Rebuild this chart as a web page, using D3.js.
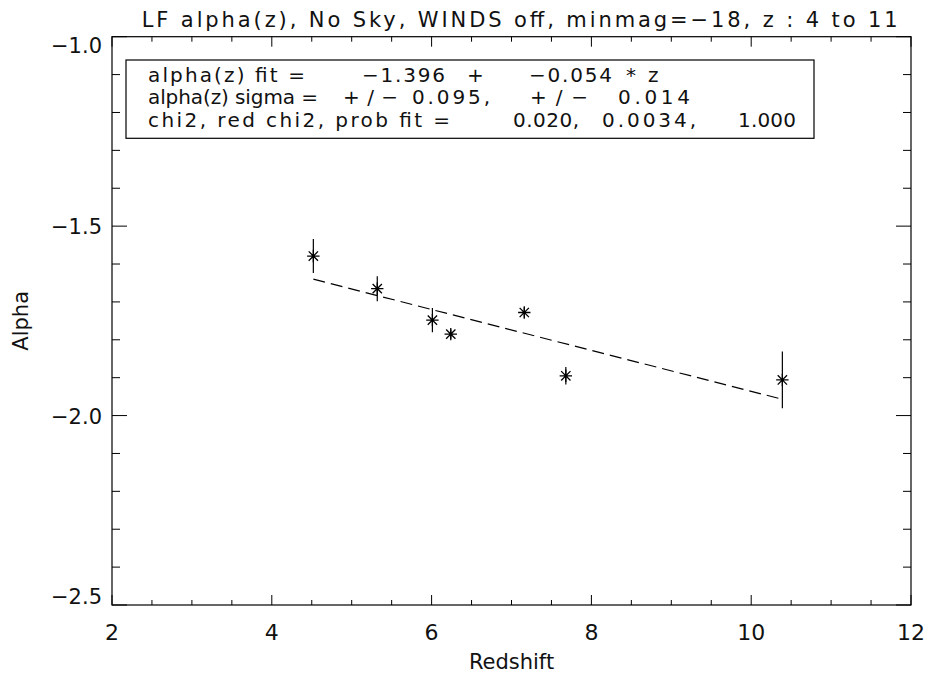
<!DOCTYPE html>
<html><head><meta charset="utf-8">
<script src="https://cdn.jsdelivr.net/npm/d3@7"></script>
<style>
html,body{margin:0;padding:0;background:#fff;}
svg text{font-family:"DejaVu Sans","Liberation Sans",sans-serif;fill:#111;}
</style></head>
<body>
<svg id="chart" width="928" height="677"></svg>
<script>
// ---- data ----
const redshift = [4.52, 5.32, 6.01, 6.24, 7.16, 7.68, 10.39];
const alpha    = [-1.579, -1.665, -1.748, -1.785, -1.728, -1.895, -1.906];
const alphaErr = [0.045, 0.033, 0.032, 0.012, 0.014, 0.023, 0.075];
const fitIntercept = -1.396;
const fitSlope = -0.054;
const xTicks = [2, 4, 6, 8, 10, 12];
const yTicks = [-2.5, -2.0, -1.5, -1.0];
const titleText = "LF alpha(z), No Sky, WINDS off, minmag=\u221218, z : 4 to 11";
const xLabel = "Redshift";
const yLabel = "Alpha";
// legend tokens: [text, left x, width]
const legendLines = [
  [["alpha(z) fit =",148,157],["\u22121.396",362,83],["+",467,0],["\u22120.054",529,83],["*",626,0],["z",648,0]],
  [["alpha(z) sigma =",148,170],["+/\u2212",343,55],["0.095,",412,78],["+/\u2212",530,58],["0.014",618,72]],
  [["chi2, red chi2, prob fit =",148,302],["0.020,",513,66],["0.0034,",602,94],["1.000",738,58]]
];

// ---- layout ----
const FS = "21px";
const svg = d3.select("#chart");
const L = 112, R = 911, T = 36.7, B = 605;
const x = d3.scaleLinear().domain([2, 12]).range([L, R]);
const y = d3.scaleLinear().domain([-2.5, -1.0]).range([B, T]);

const g = svg.append("g");
g.append("rect").attr("x", L).attr("y", T).attr("width", R - L).attr("height", B - T)
  .attr("fill", "none").attr("stroke", "#000").attr("stroke-width", 1.2);

const xMinor = d3.range(2, 12.001, 0.5);
const yMinor = d3.range(-2.5, -0.999, 0.1);
const isMajorX = v => Math.abs(v / 2 - Math.round(v / 2)) < 1e-6;
const isMajorY = v => Math.abs(v * 2 - Math.round(v * 2)) < 1e-6;

xMinor.forEach(v => {
  const len = isMajorX(v) ? 10 : 5;
  g.append("line").attr("x1", x(v)).attr("x2", x(v)).attr("y1", B).attr("y2", B - len).attr("stroke", "#000");
  g.append("line").attr("x1", x(v)).attr("x2", x(v)).attr("y1", T).attr("y2", T + len).attr("stroke", "#000");
});
yMinor.forEach(v => {
  const len = isMajorY(v) ? 15 : 8;
  g.append("line").attr("x1", L).attr("x2", L + len).attr("y1", y(v)).attr("y2", y(v)).attr("stroke", "#000");
  g.append("line").attr("x1", R).attr("x2", R - len).attr("y1", y(v)).attr("y2", y(v)).attr("stroke", "#000");
});

g.selectAll(".xt").data(xTicks).enter().append("text")
  .attr("x", d => x(d)).attr("y", 640).attr("text-anchor", "middle")
  .style("font-size", "22px").text(d => d);
g.selectAll(".yt").data(yTicks).enter().append("text")
  .attr("x", 102)
  .attr("y", d => Math.min(Math.max(y(d) + 8, T + 16.5), B - 1))
  .attr("text-anchor", "end").style("font-size", FS)
  .text(d => "\u2212" + Math.abs(d).toFixed(1));

svg.append("text").attr("x", (L + R) / 2).attr("y", 669).attr("text-anchor", "middle")
  .style("font-size", FS).text(xLabel);
svg.append("text").attr("transform", `translate(28,${(T + B) / 2}) rotate(-90)`)
  .attr("text-anchor", "middle").style("font-size", FS).text(yLabel);
svg.append("text").attr("x", 141.7).attr("y", 26.5).attr("textLength", 756)
  .attr("lengthAdjust", "spacing").style("font-size", FS).text(titleText);

// legend box
g.append("rect").attr("x", 126).attr("y", 60).attr("width", 814 - 126).attr("height", 138.3 - 60)
  .attr("fill", "none").attr("stroke", "#000").attr("stroke-width", 1.2);
const baselines = [81.5, 104, 126.5];
legendLines.forEach((line, i) => {
  line.forEach(tok => {
    const t = svg.append("text").attr("x", tok[1]).attr("y", baselines[i])
      .style("font-size", "20px").text(tok[0]);
    if (tok[2] > 0) t.attr("textLength", tok[2]).attr("lengthAdjust", "spacing");
  });
});

// fit line (dashed)
const zMin = d3.min(redshift), zMax = d3.max(redshift);
const fitPts = [zMin, zMax].map(z => [z, fitIntercept + fitSlope * z]);
g.append("path").datum(fitPts)
  .attr("d", d3.line().x(d => x(d[0])).y(d => y(d[1])))
  .attr("fill", "none").attr("stroke", "#000").attr("stroke-width", 1.2)
  .attr("stroke-dasharray", "12,6");

const pts = redshift.map((z, i) => ({z, a: alpha[i], e: alphaErr[i]}));
g.selectAll(".err").data(pts).enter().append("line")
  .attr("x1", d => x(d.z)).attr("x2", d => x(d.z))
  .attr("y1", d => y(d.a - d.e)).attr("y2", d => y(d.a + d.e))
  .attr("stroke", "#000").attr("stroke-width", 1.2);

const r = 6.2;
const star = `M0,${-r}V${r}M${-r},0H${r}M${-r*0.75},${-r*0.75}L${r*0.75},${r*0.75}M${-r*0.75},${r*0.75}L${r*0.75},${-r*0.75}`;
g.selectAll(".pt").data(pts).enter().append("path")
  .attr("transform", d => `translate(${x(d.z)},${y(d.a)})`)
  .attr("d", star).attr("fill", "none").attr("stroke", "#000").attr("stroke-width", 1.3);
</script>
</body></html>
